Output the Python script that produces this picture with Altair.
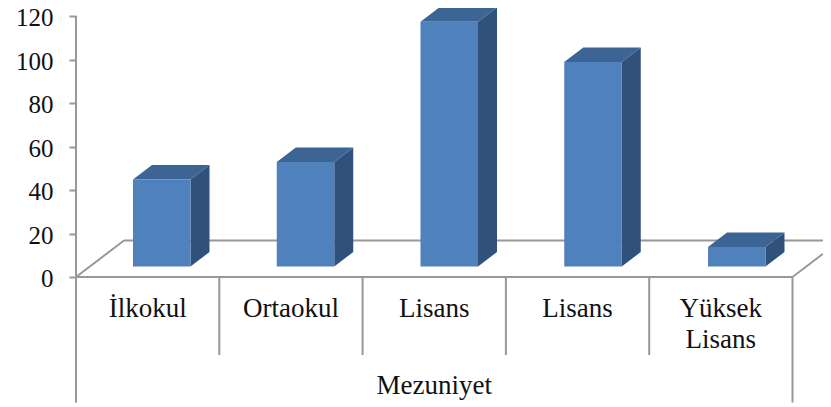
import altair as alt
import pandas as pd

categories = ["İlkokul", "Ortaokul", "Lisans", "Lisans", "Yüksek\nLisans"]
values = [40, 48, 112.5, 94, 9]
y_ticks = [0, 20, 40, 60, 80, 100, 120]
group_label = "Mezuniyet"

# chart geometry, in axis units
CAT_PX = 143.3
PX_Y = 2.175
WIDTH = 747
HEIGHT = 388
X_MAX = WIDTH / CAT_PX
Y_MIN = -127 / PX_Y
GAP = 57 / CAT_PX
STEP = 143.75 / CAT_PX
BAR_W = 57.5 / CAT_PX
BASE = 10.5 / PX_Y
DX = 19 / CAT_PX
DY = 14.5 / PX_Y
FLOOR_DX = 48 / CAT_PX
FLOOR_DY = 36.5 / PX_Y
SHORT = -78 / PX_Y
LONG = -125.5 / PX_Y

FONT = "Liberation Serif"
GREY = "#989898"
FRONT = "#4f81bd"
SIDE = "#30517c"
TOP = "#3c6494"

x_scale = alt.Scale(domain=[0, X_MAX], nice=False, zero=False)
y_scale = alt.Scale(domain=[Y_MIN, 120], nice=False, zero=False)
y_axis = alt.Axis(
    values=y_ticks, title=None, grid=False, domain=False,
    tickColor=GREY, tickWidth=2, tickSize=7,
    labelFont=FONT, labelFontSize=25, labelColor="#111111",
    labelPadding=16, labelOffset=1.5,
)
X = alt.X("x:Q", scale=x_scale, axis=None)
Y = alt.Y("y:Q", scale=y_scale, axis=y_axis)

front, side, top = [], [], []
for i, v in enumerate(values):
    xl = i * STEP + GAP
    xr = xl + BAR_W
    t = BASE + v
    front.append({"x": xl, "x2": xr, "y": BASE, "y2": t})
    side += [
        {"i": i, "x": xr, "y": BASE, "y2": t},
        {"i": i, "x": xr + DX, "y": BASE + DY, "y2": t + DY},
    ]
    top += [
        {"i": i, "y": t, "x": xl, "x2": xr},
        {"i": i, "y": t + DY, "x": xl + DX, "x2": xr + DX},
    ]

n = len(categories)
floor = pd.DataFrame([
    {"x": 0, "x2": n, "y": 0, "y2": 0},
    {"x": FLOOR_DX, "x2": X_MAX, "y": FLOOR_DY, "y2": FLOOR_DY},
    {"x": 0, "x2": FLOOR_DX, "y": 0, "y2": FLOOR_DY},
    {"x": n, "x2": X_MAX, "y": 0, "y2": (X_MAX - n) / FLOOR_DX * FLOOR_DY},
    {"x": 0, "x2": 0, "y": 0, "y2": 120},
])
seps = pd.DataFrame(
    [{"x": i, "y": 0, "y2": LONG if i in (0, n) else SHORT} for i in range(n + 1)]
)
labels = pd.DataFrame(
    [{"x": i + 0.5, "y": -40 / PX_Y, "t": c} for i, c in enumerate(categories)]
)
group = pd.DataFrame([{"x": n / 2, "y": -117 / PX_Y, "t": group_label}])

floor_layer = alt.Chart(floor).mark_rule(color=GREY, strokeWidth=2).encode(
    x=X, x2="x2:Q", y=Y, y2="y2:Q"
)
sep_layer = alt.Chart(seps).mark_rule(color=GREY, strokeWidth=2).encode(
    x=X, y=Y, y2="y2:Q"
)
side_layer = alt.Chart(pd.DataFrame(side)).mark_area(color=SIDE).encode(
    x=X, y=Y, y2="y2:Q", detail="i:N"
)
top_layer = alt.Chart(pd.DataFrame(top)).mark_area(color=TOP, orient="horizontal").encode(
    y=Y, x=X, x2="x2:Q", detail="i:N"
)
front_layer = alt.Chart(pd.DataFrame(front)).mark_rect(color=FRONT).encode(
    x=X, x2="x2:Q", y=Y, y2="y2:Q"
)
label_layer = alt.Chart(labels).mark_text(
    font=FONT, fontSize=27, color="#111111", lineBreak="\n", lineHeight=31,
    baseline="alphabetic",
).encode(x=X, y=Y, text="t:N")
group_layer = alt.Chart(group).mark_text(
    font=FONT, fontSize=27, color="#111111", baseline="alphabetic",
).encode(x=X, y=Y, text="t:N")

chart = alt.layer(
    floor_layer, sep_layer, side_layer, top_layer, front_layer,
    label_layer, group_layer,
).properties(
    width=WIDTH,
    height=HEIGHT,
    padding={"left": 68, "top": 8, "right": 0, "bottom": 0},
    autosize=alt.AutoSizeParams(type="none"),
    background="white",
).configure_view(stroke=None)

chart.save("out.html", embed_options={"renderer": "svg", "actions": False})
